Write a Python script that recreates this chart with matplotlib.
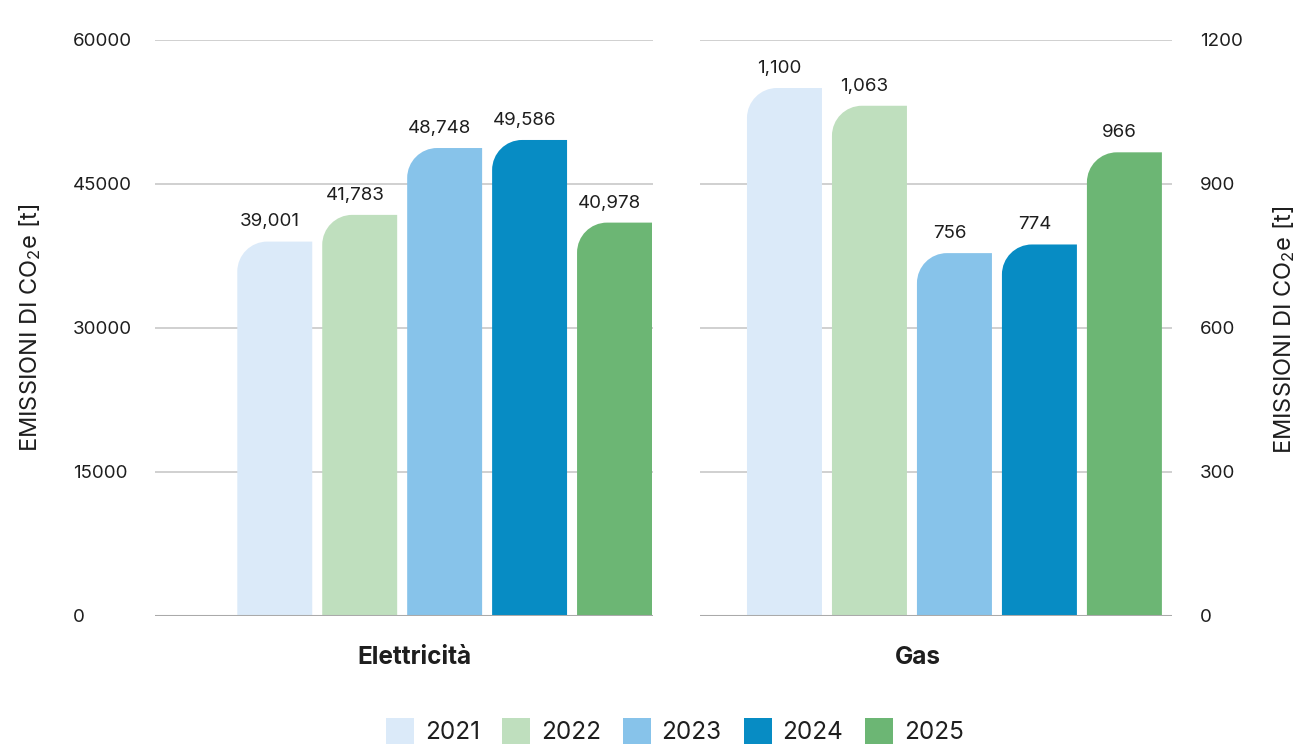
import matplotlib
matplotlib.use("Agg")
import matplotlib.pyplot as plt
from matplotlib.patches import PathPatch, Patch
from matplotlib.path import Path
import numpy as np

plt.rcParams['font.family'] = ['Inter', 'DejaVu Sans']
plt.rcParams['mathtext.fontset'] = 'custom'
plt.rcParams['mathtext.rm'] = 'Inter'
plt.rcParams['mathtext.it'] = 'Inter'

# dati
anni = ["2021", "2022", "2023", "2024", "2025"]
elettricita = [39001, 41783, 48748, 49586, 40978]
gas = [1100, 1063, 756, 774, 966]
colori = ["#dbeaf9", "#bfdfbe", "#87c3ea", "#078cc4", "#6cb674"]

W, H = 1299, 750
fig = plt.figure(figsize=(W / 100, H / 100), dpi=100)

def px_axes(x0, x1, ytop, ybot):
    return fig.add_axes([x0 / W, 1 - ybot / H, (x1 - x0) / W, (ybot - ytop) / H])

ax1 = px_axes(155, 653, 40, 616)
ax2 = px_axes(700, 1172, 40, 616)

TXT = "#1e1e1e"
RADIUS = 30  # px


def rounded_bars(ax, valori, xlim, ylim, fmt):
    ax.set_xlim(*xlim)
    ax.set_ylim(*ylim)
    x = np.arange(len(valori))
    bars = ax.bar(x, valori, width=75 / 85, color=colori, zorder=3)
    bb = ax.get_position()
    px_x = bb.width * W / (xlim[1] - xlim[0])
    px_y = bb.height * H / (ylim[1] - ylim[0])
    k = 0.5523
    for rect, col in zip(bars.patches, colori):
        x0, y0 = rect.get_x(), rect.get_y()
        x1, y1 = x0 + rect.get_width(), y0 + rect.get_height()
        rx = min(RADIUS / px_x, rect.get_width())
        ry = min(RADIUS / px_y, rect.get_height())
        verts = [(x0, y0), (x1, y0), (x1, y1), (x0 + rx, y1),
                 (x0 + rx - k * rx, y1), (x0, y1 - ry + k * ry), (x0, y1 - ry),
                 (x0, y0), (x0, y0)]
        codes = [Path.MOVETO, Path.LINETO, Path.LINETO, Path.LINETO,
                 Path.CURVE4, Path.CURVE4, Path.CURVE4,
                 Path.LINETO, Path.CLOSEPOLY]
        ax.add_patch(PathPatch(Path(verts, codes), facecolor=col,
                               edgecolor='none', zorder=3))
        rect.set_visible(False)
        ax.annotate(fmt.format(y1), (x0 + rect.get_width() / 2, y1),
                    xytext=(-3.5, 8), textcoords='offset points',
                    ha='center', va='bottom', fontsize=13.5, color=TXT)
    for s in ax.spines.values():
        s.set_visible(False)
    ax.set_xticks([])
    ax.grid(axis='y', color='#c8c8c8', linewidth=1.2, zorder=0)
    ax.axhline(0, color='#aaaaaa', linewidth=2.2, zorder=4)
    ax.tick_params(axis='y', length=0, labelsize=13.5, labelcolor=TXT)


rounded_bars(ax1, elettricita, (-1.41, 4.453), (0, 60000), "{:,.0f}")
rounded_bars(ax2, gas, (-0.994, 4.56), (0, 1200), "{:,.0f}")

ax1.set_yticks([0, 15000, 30000, 45000, 60000])
ax1.tick_params(axis='y', pad=59)
for lab in ax1.get_yticklabels():
    lab.set_horizontalalignment('left')

ax2.yaxis.tick_right()
ax2.set_yticks([0, 300, 600, 900, 1200])
ax2.tick_params(axis='y', pad=20)

ylab = "EMISSIONI DI CO$_2$e [t]"
fig.text(30 / W, 1 - 328 / H, ylab, rotation=90, ha='center', va='center',
         fontsize=17, color=TXT)
fig.text(1284 / W, 1 - 330 / H, ylab, rotation=90, ha='center', va='center',
         fontsize=17, color=TXT)

# etichette categorie
fig.text(414 / W, 1 - 658 / H, "Elettricità", ha='center', va='center',
         fontsize=17.5, fontweight='bold', color=TXT)
fig.text(918 / W, 1 - 658 / H, "Gas", ha='center', va='center',
         fontsize=17.5, fontweight='bold', color=TXT)

handles = [Patch(facecolor=c, edgecolor='none') for c in colori]
fig.legend(handles, anni, loc='center', bbox_to_anchor=(675 / W, 1 - 731 / H),
           ncol=5, frameon=False, fontsize=17.5, handlelength=1.15,
           handleheight=1.3, handletextpad=0.45, columnspacing=0.9,
           labelcolor=TXT, borderpad=0, borderaxespad=0)

fig.savefig("out.png", dpi=100, facecolor='white')
